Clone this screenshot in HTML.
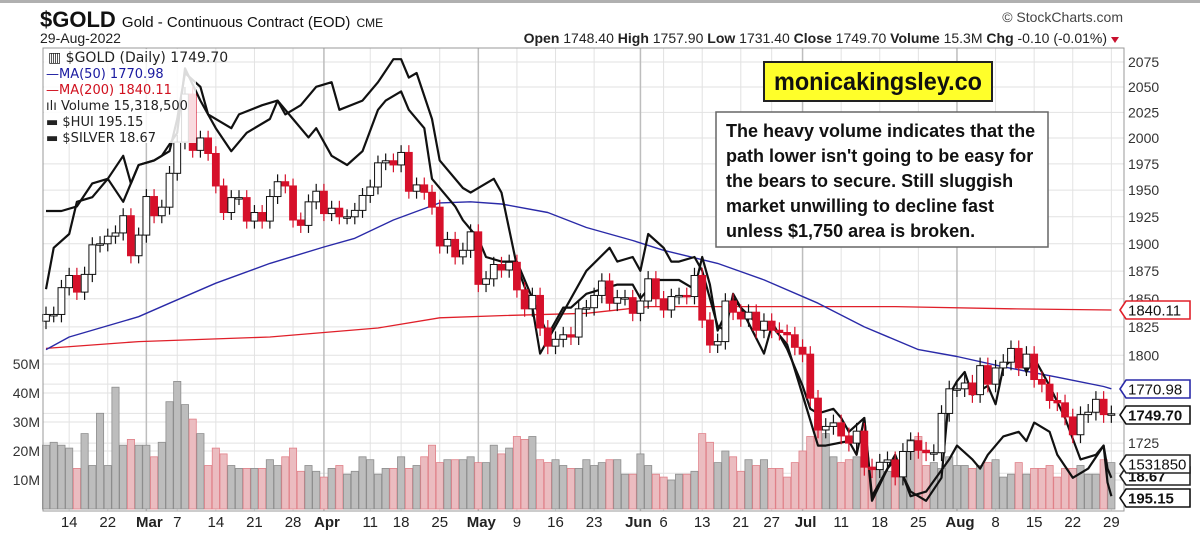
<!DOCTYPE html>
<html><head><meta charset="utf-8"><style>
html,body{margin:0;padding:0;background:#fff;}
svg{display:block;font-family:"Liberation Sans",Arial,sans-serif;}
</style></head><body>
<svg id="chart" width="1200" height="536" viewBox="0 0 1200 536" xmlns="http://www.w3.org/2000/svg">
<rect x="0" y="0" width="1200" height="3" fill="#b0b0b0"/>
<g>
<text x="40" y="27" font-size="22" font-weight="bold" fill="#111">$GOLD <tspan font-size="15" font-weight="normal">Gold - Continuous Contract (EOD)</tspan> <tspan font-size="12" font-weight="normal">CME</tspan></text>
<text x="40" y="43" font-size="14" fill="#222">29-Aug-2022</text>
<text x="1123" y="22" font-size="14" fill="#444" text-anchor="end">© StockCharts.com</text>
<text x="1107" y="43" font-size="14" fill="#222" text-anchor="end"><tspan font-weight="bold">Open</tspan> 1748.40  <tspan font-weight="bold">High</tspan> 1757.90  <tspan font-weight="bold">Low</tspan> 1731.40  <tspan font-weight="bold">Close</tspan> 1749.70  <tspan font-weight="bold">Volume</tspan> 15.3M  <tspan font-weight="bold">Chg</tspan> -0.10 (-0.01%)</text>
<path d="M1111 37 L1119 37 L1115 43 Z" fill="#c8102e"/>
</g>
<g id="grid"></g>
<g id="vol"></g>
<g id="ma"></g>
<g id="over"></g>
<g id="candles"></g>
<rect x="43" y="48" width="1081" height="463" fill="none" stroke="#999" stroke-width="1"/>
<g id="axes"></g>
<g font-size="14" font-family="'DejaVu Sans',sans-serif">
<rect x="44" y="49" width="152" height="94" fill="#fff" fill-opacity="0.85"/>
<text x="48" y="62" fill="#222">▥ $GOLD (Daily) 1749.70</text>
<text x="46" y="78" fill="#1a1aa0" font-size="13">—MA(50) 1770.98</text>
<text x="46" y="94" fill="#d0101e" font-size="13">—MA(200) 1840.11</text>
<text x="46" y="110" fill="#222" font-size="13">ılı Volume 15,318,500</text>
<text x="46" y="126" fill="#222" font-size="13">▬ $HUI 195.15</text>
<text x="46" y="142" fill="#222" font-size="13">▬ $SILVER 18.67</text>
</g>
<g>
<rect x="764" y="62" width="228" height="39" fill="#ffff2a" stroke="#222" stroke-width="2"/>
<text x="774" y="90" font-size="25" font-weight="bold" fill="#111" textLength="208" lengthAdjust="spacingAndGlyphs">monicakingsley.co</text>
</g>
<g font-size="18" font-weight="bold" fill="#111">
<rect x="716" y="112" width="332" height="135" fill="#fff" stroke="#666" stroke-width="1.5"/>
<text x="726" y="137">The heavy volume indicates that the</text>
<text x="726" y="162">path lower isn't going to be easy for</text>
<text x="726" y="187">the bears to secure. Still sluggish</text>
<text x="726" y="212">market unwilling to decline fast</text>
<text x="726" y="237">unless $1,750 area is broken.</text>
</g>
<g id="tags"></g>
</svg>
<script>
// ---- data ----
const closes = [1836,1836,1860,1871,1856,1872,1899,1900,1907,1910,1926,1889,1908,
1944,1926,1934,1966,1996,2043,1988,2000,1985,1954,1929,1943,1943,1921,1929,1921,1944,1958,1954,1922,1917,1939,1949,
1928,1933,1925,1925,1931,1945,1953,1976,1978,1974,1986,1949,1955,1948,1934,1898,1904,1888,1894,1911,
1863,1868,1881,1876,1883,1858,1841,1853,1824,1808,1814,1818,1816,1841,1842,1853,1866,1846,1851,1851,1837,
1848,1868,1850,1840,1852,1853,1852,1871,1831,1809,1812,1848,1838,1832,1838,1822,1830,1822,1820,1818,1807,
1801,1763,1736,1739,1742,1731,1725,1735,1705,1703,1709,1711,1697,1718,1727,1719,1717,1717,1750,1771,
1771,1776,1766,1791,1775,1789,1794,1806,1789,1801,1779,1775,1761,1759,1747,1732,1749,1751,1762,1749,1749.7];
const firstOpen = 1830;
const volumesM = [22,23,22,21,14,26,15,33,15,42,22,24,22,22,18,23,37,44,36,31,26,15,21,19,15,14,14,14,14,17,15,18,21,13,15,13,
11,14,15,12,13,18,17,12,14,14,18,14,15,18,22,16,17,17,17,18,16,16,22,19,21,25,24,25,17,16,17,15,14,14,17,15,16,17,17,12,12,
19,15,12,11,10,12,12,13,26,23,16,20,18,13,17,15,17,14,14,11,16,20,25,31,26,18,16,17,18,18,14,15,13,12,15,24,25,15,16,14,18,
15,15,14,15,16,17,11,12,16,12,14,14,15,11,14,14,15,12,12,17,16];
const ma50Idx = [0,3,12,16,22,29,36,40,45,51,55,59,65,70,76,80,87,93,100,106,113,118,124,131,137,138];
const ma50Val = [1805,1816,1834,1846,1864,1882,1897,1905,1922,1938,1939,1937,1929,1915,1903,1894,1882,1867,1846,1825,1805,1799,1790,1781,1773,1771];
const ma200Idx = [0,12,29,43,51,59,70,78,91,110,125,138];
const ma200Val = [1806,1812,1816,1824,1833,1835,1837,1843,1843,1843,1841,1840];
const huiIdx = [0,2,4,6,8,10,11,12,14,16,17,18,20,21,24,25,28,30,31,33,35,37,38,41,43,45,46,47,48,50,51,54,55,57,58,59,61,63,64,70,73,74,76,77,78,80,81,82,84,85,87,88,89,90,93,94,96,98,99,100,102,103,104,106,107,110,112,114,117,118,120,121,122,124,126,127,128,130,131,133,135,137,137.5,138];
const huiVal = [65,65,66,71,72,77,71,75,76,78,85,95,92,86,83,86,88,89,86,88,92,93,87,89,93,98,98,94,95,85,76,70,69,71,72,69,53,44,34,52,57,54,55,52,60,57,54,54,55,52,40,39,47,44,39,41,35,27,22,21,22,20,17,20,3,12,3,4,11,14,11,9,12,16,17,15,19,17,12,7,9,14,6,3];
const silverIdx = [0,1,3,4,6,8,10,12,14,15,17,18,20,22,24,26,29,30,32,34,35,37,39,41,43,44,46,47,49,50,53,54,56,57,59,61,63,65,67,68,70,72,74,76,77,79,82,84,85,86,87,89,90,93,94,96,98,100,101,104,105,106,107,109,110,112,114,116,117,118,119,120,122,123,124,126,127,128,130,132,134,136,137,137.5,138];
const silverVal = [48,57,60,67,68,72,67,75,76,77,82,96,89,83,78,82,85,89,85,81,83,77,75,78,87,89,91,87,83,72,66,63,59,55,54,54,46,38,44,44,47,48,49,49,46,50,50,48,55,49,39,46,44,34,40,36,25,14,14,15,12,20,2,9,11,4,2,7,25,28,30,25,27,23,31,34,30,33,27,20,11,12,14,9,7];
const priceTicks = [2075,2050,2025,2000,1975,1950,1925,1900,1875,1850,1825,1800,1725];
const priceGrid = [2075,2050,2025,2000,1975,1950,1925,1900,1875,1850,1825,1800,1775,1750,1725,1700];
const volTicks = [10,20,30,40,50];
const dateLabels = ["14","22","Mar","7","14","21","28","Apr","11","18","25","May","9","16","23","Jun","6","13","21","27","Jul","11","18","25","Aug","8","15","22","29"];
const dateIdx = [3,8,13,17,22,27,32,36,42,46,51,56,61,66,71,77,80,85,90,94,98,103,108,113,118,123,128,133,138];
const monthLabels = ["Mar","Apr","May","Jun","Jul","Aug"];

// ---- scales ----
const X = i => 46 + i*7.72;
const Y = p => 62 + 2063*Math.log(2075/p);
const VY = v => 509 - v*2.9;
const OY = v => 510 - v*4.6;
const NS = "http://www.w3.org/2000/svg";
function mk(tag, attrs, parent){const e=document.createElementNS(NS,tag);for(const k in attrs)e.setAttribute(k,attrs[k]);parent.appendChild(e);return e;}
const grid=document.getElementById('grid'), vol=document.getElementById('vol'), ma=document.getElementById('ma'),
 over=document.getElementById('over'), cg=document.getElementById('candles'), axes=document.getElementById('axes'), tags=document.getElementById('tags');

// grid
priceGrid.forEach(p=>{const l=mk('line',{x1:43,x2:1124,y1:Y(p),y2:Y(p),stroke:'#e2e2e2'},grid);

});
volTicks.forEach(v=>{const l=mk('line',{x1:43,x2:1124,y1:VY(v),y2:VY(v),stroke:'#e2e2e2'},grid);

});
dateIdx.forEach((d,k)=>{const isM=monthLabels.includes(dateLabels[k]);
const l=mk('line',{x1:X(d),x2:X(d),y1:48,y2:511,stroke:isM?'#bdbdbd':'#e2e2e2','stroke-width':isM?1.5:1},grid);

});

// volume
volumesM.forEach((v,i)=>{const o=i?closes[i-1]:firstOpen; const up=closes[i]>=o;
const r=mk('rect',{x:X(i)-3.6,y:VY(v),width:7.2,height:509-VY(v),fill:up?'#bdbdbd':'#ebbcc0',stroke:up?'#8d8d8d':'#e08088','stroke-width':0.8},vol);

});

// lines
function line(idx,val,sy,color,w,name,parent){let d='';idx.forEach((i,k)=>{d+=(k?'L':'M')+X(i).toFixed(1)+' '+sy(val[k]).toFixed(1);});
const p=mk('path',{d:d,fill:'none',stroke:color,'stroke-width':w,'stroke-linejoin':'round'},parent);

}
line(ma200Idx,ma200Val,Y,'#e0202a',1.3,'ma200-line',ma);
line(ma50Idx,ma50Val,Y,'#2a2aa8',1.4,'ma50-line',ma);
line(huiIdx,huiVal,OY,'#111',2.2,'hui-line',over);
line(silverIdx,silverVal,OY,'#111',2.2,'silver-line',over);

// candles
closes.forEach((c,i)=>{const o=i?closes[i-1]:firstOpen; const up=c>=o; const col=up?'#111':'#d6102a';
const hi=Math.max(o,c)+7, lo=Math.min(o,c)-7; const x=X(i);
const w=mk('line',{x1:x,x2:x,y1:Y(hi),y2:Y(lo),stroke:col,'stroke-width':1.2},cg);


const t=Math.min(Y(o),Y(c)), h=Math.max(1.5,Math.abs(Y(o)-Y(c)));
const b=mk('rect',{x:x-3.4,y:t,width:6.8,height:h,fill:up?'#fff':col,stroke:col,'stroke-width':1},cg);

});

// axes labels
priceTicks.forEach(p=>{const t=mk('text',{x:1128,y:Y(p)+5,'font-size':14,fill:'#333'},axes);t.textContent=p;

});
volTicks.forEach(v=>{const t=mk('text',{x:40,y:VY(v)+5,'font-size':14,fill:'#333','text-anchor':'end'},axes);t.textContent=v+'M';

});
dateLabels.forEach((s,k)=>{const isM=monthLabels.includes(s);
const t=mk('text',{x:X(dateIdx[k])+(s==='Jun'?-2:(isM?3:0)),y:527,'font-size':15,'font-weight':isM?'bold':'normal',fill:'#222','text-anchor':'middle'},axes);t.textContent=s;

});

// price tags
const tagText=['1840.11','1770.98','1749.70','1531850','18.67','195.15'];
const tagY=[310,389,415,464,476,498];
const tagCol=['#e0202a','#2a2aa8','#111','#222','#222','#111'];
const tagBold=[false,false,true,false,true,true];
[4,3,0,1,2,5].forEach(k=>{const y=tagY[k];
const p=mk('path',{d:`M1120 ${y} L1126 ${y-9} L1190 ${y-9} L1190 ${y+9} L1126 ${y+9} Z`,fill:'#fff',stroke:tagCol[k],'stroke-width':1.6},tags);


const t=mk('text',{x:1128,y:y+5.5,'font-size':15,'font-weight':tagBold[k]?'bold':'normal',fill:'#111'},tags);t.textContent=tagText[k];

});
</script>
</body></html>
